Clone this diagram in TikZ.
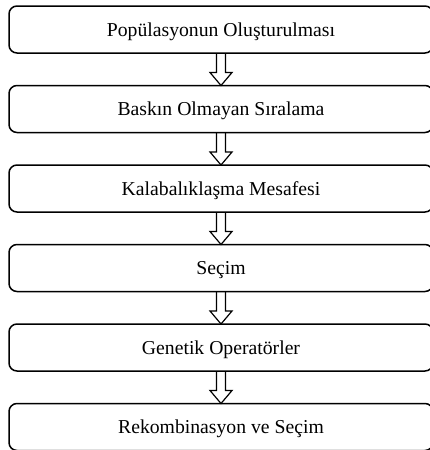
\documentclass[tikz,border=0pt]{standalone}
\usepackage{fontspec}
\setmainfont{Liberation Serif}
\usepackage{tikz}
\usetikzlibrary{positioning}

\begin{document}
\begin{tikzpicture}[x=1pt,y=1pt,
  stage/.style={draw, line width=1.5pt, rounded corners=8pt, outer sep=0pt,
    minimum width=424pt, minimum height=47pt, inner sep=0pt,
    text height=13pt, text depth=0pt, font=\fontsize{19.7}{23}\selectfont},
  hollow/.style={draw, line width=1.2pt, line join=miter},
  node distance=32.5pt]
\useasboundingbox (0,0) rectangle (430,-450);
\clip (0,0) rectangle (430,-450);

\node[stage] (pop) at (221,-29.5) {Popülasyonun Oluşturulması};
\node[stage, below=of pop] (sort) {Baskın Olmayan Sıralama};
\node[stage, below=of sort] (crowd) {Kalabalıklaşma Mesafesi};
\node[stage, below=of crowd] (sel) {Seçim};
\node[stage, below=of sel] (ops) {Genetik Operatörler};
\node[stage, below=of ops] (rec) {Rekombinasyon ve Seçim};

% hollow down arrows
\foreach \a/\b in {pop/sort, sort/crowd, crowd/sel, sel/ops, ops/rec}
  \draw[hollow] ([xshift=-4.5pt]\a.south) -- ([xshift=-4.5pt,yshift=13pt]\b.north)
    -- ([xshift=-11pt,yshift=13pt]\b.north) -- (\b.north)
    -- ([xshift=11pt,yshift=13pt]\b.north) -- ([xshift=4.5pt,yshift=13pt]\b.north)
    -- ([xshift=4.5pt]\a.south);
\end{tikzpicture}
\end{document}
